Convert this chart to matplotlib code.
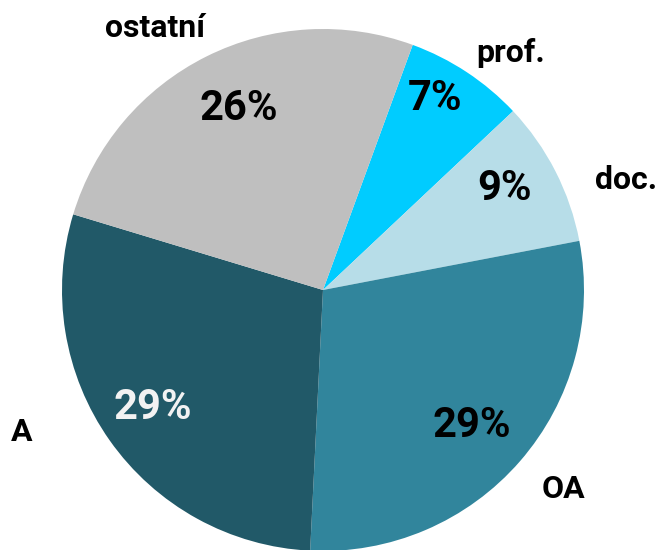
import matplotlib.pyplot as plt

# --- Data ---
categories = ["prof.", "doc.", "OA", "A", "ostatní"]
shares = [7.4, 9.0, 28.8, 28.9, 25.9]   # labels round them
colors = ["#00CCFF", "#B7DDE8", "#31859C", "#215968", "#BFBFBF"]
pct_colors = ["black", "black", "black", "#F2F2F2", "black"]

plt.rcParams['font.family'] = ['Roboto', 'DejaVu Sans']

fig = plt.figure(figsize=(6.62, 5.5), dpi=100)
ax = fig.add_axes([0, 0, 1, 1])

wedges, texts, autotexts = ax.pie(
    shares, colors=colors, labels=categories,
    startangle=69.9, counterclock=False,
    autopct='%1.0f%%', pctdistance=0.8, labeldistance=1.2,
    wedgeprops=dict(linewidth=0), radius=1.0,
)

# pie radius 1 == 261 px, centre at (323, 290) px
R = 261.0
ax.set_xlim(-323 / R, (662 - 323) / R)
ax.set_ylim(-(550 - 290) / R, 290 / R)
ax.set_aspect('equal')
ax.axis('off')

# label placement as in the original (data units, pie radius = 1)
pct_pos = [(0.431, 0.733), (0.695, 0.388), (0.569, -0.520), (-0.653, -0.452), (-0.324, 0.695)]
label_pos = {
    "ostatní": (-0.643, 1.004),
    "prof.": (0.720, 0.908),
    "doc.": (1.160, 0.420),
    "OA": (0.923, -0.763),
    "A": (-1.153, -0.544),
}

for t, c, p in zip(autotexts, pct_colors, pct_pos):
    t.set_color(c)
    t.set_fontsize(30)
    t.set_fontweight('bold')
    t.set_position(p)

for t in texts:
    t.set_fontsize(23)
    t.set_fontweight('bold')
    t.set_position(label_pos[t.get_text()])
    t.set_ha('center')
    t.set_va('center')

fig.savefig("out.png", dpi=100)
